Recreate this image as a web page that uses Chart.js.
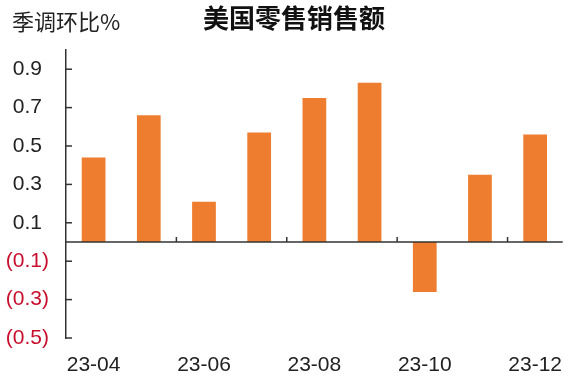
<!DOCTYPE html>
<html>
<head>
<meta charset="utf-8">
<script src="https://cdn.jsdelivr.net/npm/chart.js@4/dist/chart.umd.min.js"></script>
<style>
  html, body { margin: 0; padding: 0; background: #fff; }
  canvas { display: block; }
</style>
</head>
<body>
<canvas id="c" width="577" height="378"></canvas>
<script>
// 美国零售销售额，季调环比 (%)
const months = ['23-04', '23-05', '23-06', '23-07', '23-08', '23-09', '23-10', '23-11', '23-12'];
const momChange = [0.44, 0.66, 0.21, 0.57, 0.75, 0.83, -0.26, 0.35, 0.56];
const yTickValues = [-0.5, -0.3, -0.1, 0.1, 0.3, 0.5, 0.7, 0.9];

const unitLabel = '季调环比%';
const chartTitle = '美国零售销售额';

const BAR_COLOR = '#EE7D2F';
const AXIS_COLOR = '#333333';
const TEXT_COLOR = '#222222';
const NEG_COLOR = '#C8102E';
const NUM_FONT = 'Liberation Sans, Arial, sans-serif';
const CJK_FONT = '"Noto Sans CJK SC", sans-serif';

// Header texts, zero line and inward tick marks
const decorations = {
  id: 'decorations',
  afterDraw(chart) {
    const { ctx, chartArea, scales } = chart;
    const x = scales.x, y = scales.y;
    ctx.save();

    ctx.fillStyle = TEXT_COLOR;
    ctx.textBaseline = 'middle';
    ctx.textAlign = 'left';
    ctx.font = '22px ' + CJK_FONT;
    ctx.fillText(unitLabel, 12, 22);
    ctx.textAlign = 'center';
    ctx.font = 'bold 26px ' + CJK_FONT;
    ctx.fillStyle = '#111';
    ctx.fillText(chartTitle, 294, 18);

    ctx.strokeStyle = AXIS_COLOR;
    ctx.lineWidth = 1.5;

    // zero line
    const y0 = y.getPixelForValue(0);
    ctx.beginPath();
    ctx.moveTo(chartArea.left, y0);
    ctx.lineTo(chartArea.right, y0);
    ctx.stroke();

    // y ticks pointing into the plot
    y.ticks.forEach(t => {
      const py = y.getPixelForValue(t.value);
      ctx.beginPath();
      ctx.moveTo(chartArea.left, py);
      ctx.lineTo(chartArea.left + 6, py);
      ctx.stroke();
    });

    // x ticks on the zero line, every two months
    for (let i = 1; i < months.length - 1; i += 2) {
      const px = (x.getPixelForValue(i) + x.getPixelForValue(i + 1)) / 2;
      ctx.beginPath();
      ctx.moveTo(px, y0);
      ctx.lineTo(px, y0 - 5);
      ctx.stroke();
    }
    ctx.restore();
  }
};

new Chart(document.getElementById('c'), {
  type: 'bar',
  data: {
    labels: months,
    datasets: [{
      data: momChange,
      backgroundColor: BAR_COLOR,
      borderWidth: 0,
      barPercentage: 0.43,
      categoryPercentage: 1.0
    }]
  },
  options: {
    responsive: false,
    animation: false,
    devicePixelRatio: 1,
    layout: { padding: { top: 50, right: 0, bottom: 2, left: 0 } },
    plugins: {
      legend: { display: false },
      title: { display: false },
      tooltip: { enabled: false }
    },
    scales: {
      x: {
        offset: true,
        afterFit: scale => { scale.height = 38; },
        grid: { display: false, drawTicks: false },
        border: { display: false },
        ticks: {
          autoSkip: false,
          maxRotation: 0,
          padding: 15,
          color: TEXT_COLOR,
          font: { family: NUM_FONT, size: 21 },
          callback: (v, i) => (i % 2 === 0 ? months[i] : '')
        }
      },
      y: {
        min: -0.5,
        max: 1.0,
        afterBuildTicks: scale => {
          scale.ticks = yTickValues.map(v => ({ value: v }));
        },
        afterFit: scale => { scale.width = 66; },
        grid: { display: true, drawOnChartArea: false, drawTicks: false },
        border: { display: true, color: AXIS_COLOR, width: 1.5 },
        ticks: {
          crossAlign: 'center',
          padding: 17,
          font: { family: NUM_FONT, size: 21 },
          color: ctx => (ctx.tick && ctx.tick.value < 0 ? NEG_COLOR : TEXT_COLOR),
          callback: v => (v < 0 ? '(' + Math.abs(v).toFixed(1) + ')' : v.toFixed(1))
        }
      }
    }
  },
  plugins: [decorations]
});
</script>
</body>
</html>
